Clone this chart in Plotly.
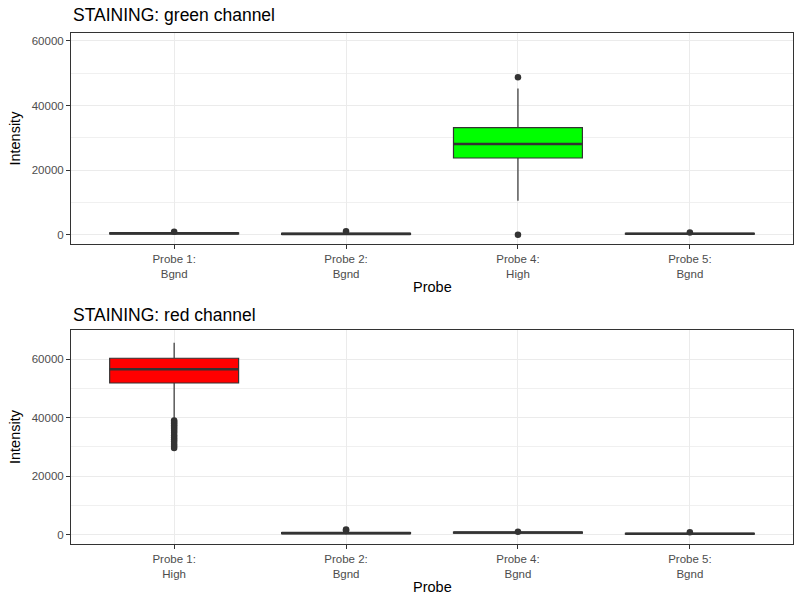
import plotly.graph_objects as go

# ---------------- data ----------------
green_labels = ["Probe 1:<br>Bgnd", "Probe 2:<br>Bgnd", "Probe 4:<br>High", "Probe 5:<br>Bgnd"]
green_q1 = [250, 120, 23760, 150]
green_median = [400, 250, 28100, 280]
green_q3 = [550, 380, 33150, 400]
green_lower = [50, 20, 10500, 20]
green_upper = [800, 700, 45300, 650]
green_fill = ["white", "white", "#00FF00", "white"]
green_outliers = [[900], [1100], [48800, 0], [700]]

red_labels = ["Probe 1:<br>High", "Probe 2:<br>Bgnd", "Probe 4:<br>Bgnd", "Probe 5:<br>Bgnd"]
red_q1 = [51800, 350, 550, 200]
red_median = [56500, 550, 750, 300]
red_q3 = [60250, 750, 900, 420]
red_lower = [39800, 50, 250, 30]
red_upper = [65535, 1300, 950, 700]
red_fill = ["#FF0000", "white", "white", "white"]
red_outliers = [[39000, 38500, 38000, 37400, 36800, 36200, 35500, 34800, 34000,
                 33200, 32500, 31800, 31000, 30300, 29600],
                [1800, 1500], [1000], [800]]

green_range = [-2880, 62380]
red_range = [-3180, 69800]
green_major = [0, 20000, 40000, 60000]
red_major = [0, 20000, 40000, 60000]
minor_ticks = [10000, 30000, 50000]

BOX_W = 0.75
DARK = "#333333"

fig = go.Figure()


def add_panel(labels, q1, med, q3, lo, hi, fill, outl, xa, ya):
    for i in range(len(labels)):
        fig.add_trace(go.Box(
            x=[i], q1=[q1[i]], median=[med[i]], q3=[q3[i]],
            lowerfence=[lo[i]], upperfence=[hi[i]],
            width=BOX_W, whiskerwidth=0, fillcolor=fill[i],
            line=dict(color=DARK, width=1.2), boxpoints=False,
            showlegend=False, xaxis=xa, yaxis=ya, hoverinfo="skip"))
        # thicker median line (ggplot fatten)
        fig.add_trace(go.Scatter(
            x=[i - BOX_W / 2, i + BOX_W / 2], y=[med[i], med[i]],
            mode="lines", line=dict(color=DARK, width=2.6),
            showlegend=False, xaxis=xa, yaxis=ya, hoverinfo="skip"))
        fig.add_trace(go.Scatter(
            x=[i] * len(outl[i]), y=outl[i], mode="markers",
            marker=dict(color=DARK, size=6.5),
            showlegend=False, xaxis=xa, yaxis=ya, hoverinfo="skip"))


add_panel(green_labels, green_q1, green_median, green_q3, green_lower, green_upper,
          green_fill, green_outliers, "x", "y")
add_panel(red_labels, red_q1, red_median, red_q3, red_lower, red_upper,
          red_fill, red_outliers, "x2", "y2")

xdom = [71 / 800, 793 / 800]
top_dom = [1 - 244 / 600, 1 - 33.3 / 600]
bot_dom = [1 - 544 / 600, 1 - 330.3 / 600]

tickfont = dict(family="Liberation Sans, Arial, sans-serif", size=11.5, color="#4D4D4D")


def xaxis(labels, anchor):
    return dict(domain=xdom, anchor=anchor, range=[-0.6, len(labels) - 0.4],
                tickmode="array", tickvals=list(range(len(labels))), ticktext=labels,
                showgrid=True, gridcolor="#EBEBEB", gridwidth=1.1,
                ticks="outside", ticklen=4, tickcolor=DARK, tickwidth=1,
                showline=True, linecolor=DARK, linewidth=1, mirror=True,
                zeroline=False, tickfont=tickfont)


def yaxis(rng, major, dom, anchor):
    return dict(domain=dom, anchor=anchor, range=rng,
                tickmode="array", tickvals=major, ticktext=[str(v) for v in major],
                showgrid=True, gridcolor="#EBEBEB", gridwidth=1.1,
                minor=dict(tickmode="array", tickvals=minor_ticks, showgrid=True,
                           gridcolor="#F0F0F0", gridwidth=0.7, ticks=""),
                ticks="outside", ticklen=4, tickcolor=DARK, tickwidth=1,
                showline=True, linecolor=DARK, linewidth=1, mirror=True,
                zeroline=False, tickfont=tickfont)


fig.update_layout(
    width=800, height=600,
    margin=dict(l=0, r=0, t=0, b=0),
    paper_bgcolor="white", plot_bgcolor="white",
    font=dict(family="Liberation Sans, Arial, sans-serif"),
    xaxis=xaxis(green_labels, "y"),
    yaxis=yaxis(green_range, green_major, top_dom, "x"),
    xaxis2=xaxis(red_labels, "y2"),
    yaxis2=yaxis(red_range, red_major, bot_dom, "x2"),
)

ann_title = dict(family="Liberation Sans, Arial, sans-serif", size=17.5, color="black")
ann_axis = dict(family="Liberation Sans, Arial, sans-serif", size=14.5, color="black")
xc = (xdom[0] + xdom[1]) / 2
annotations = [
    dict(text="STAINING: green channel", x=71 / 800, y=1 - 15 / 600, xanchor="left", yanchor="middle",
         font=ann_title),
    dict(text="STAINING: red channel", x=71 / 800, y=1 - 315 / 600, xanchor="left", yanchor="middle",
         font=ann_title),
    dict(text="Probe", x=xc, y=1 - 287 / 600, xanchor="center", yanchor="middle", font=ann_axis),
    dict(text="Probe", x=xc, y=1 - 587 / 600, xanchor="center", yanchor="middle", font=ann_axis),
    dict(text="Intensity", x=15 / 800, y=1 - 138.6 / 600, textangle=-90, xanchor="center",
         yanchor="middle", font=ann_axis),
    dict(text="Intensity", x=15 / 800, y=1 - 437 / 600, textangle=-90, xanchor="center",
         yanchor="middle", font=ann_axis),
]
for a in annotations:
    a.update(xref="paper", yref="paper", showarrow=False)
fig.update_layout(annotations=annotations)

fig.write_html("out.html")
